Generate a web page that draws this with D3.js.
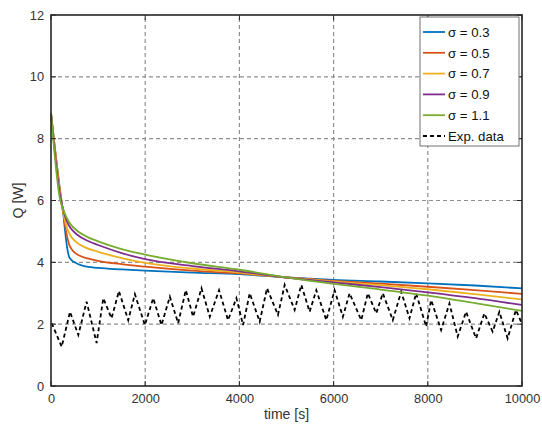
<!DOCTYPE html>
<html><head><meta charset="utf-8">
<script src="https://cdn.jsdelivr.net/npm/d3@7"></script>
<style>body{margin:0;background:#fff;} text{font-family:"Liberation Sans",Arial,sans-serif;}</style>
</head><body>
<script>
const xTicks = [0, 2000, 4000, 6000, 8000, 10000];
const yTicks = [0, 2, 4, 6, 8, 10, 12];
const seriesNames = ["σ = 0.3", "σ = 0.5", "σ = 0.7", "σ = 0.9", "σ = 1.1"];
const seriesColors = ["#0072BD", "#D95319", "#EDB120", "#7E2F8E", "#77AC30"];
const sigma03 = [[0,8.83],[220,6.0],[260,5.6],[300,5.0],[340,4.5],[380,4.2],[430,4.08],[500,4.0],[700,3.88],[1000,3.82],[1500,3.77],[2000,3.73],[3000,3.67],[4000,3.62],[5000,3.51],[6000,3.43],[7000,3.38],[8000,3.32],[9000,3.25],[10000,3.16]];
const sigma05 = [[0,8.83],[220,6.0],[270,5.5],[320,5.0],[380,4.6],[450,4.4],[600,4.22],[800,4.12],[1000,4.05],[1500,3.94],[2000,3.86],[3000,3.73],[4000,3.64],[5000,3.51],[6000,3.40],[7000,3.31],[8000,3.21],[9000,3.10],[10000,2.98]];
const sigma07 = [[0,8.83],[210,6.05],[260,5.6],[320,5.2],[400,4.9],[500,4.7],[700,4.5],[1000,4.34],[1500,4.14],[2000,3.98],[3000,3.80],[4000,3.67],[5000,3.51],[6000,3.38],[7000,3.26],[8000,3.13],[9000,2.97],[10000,2.80]];
const sigma09 = [[0,8.83],[200,6.1],[260,5.7],[330,5.35],[420,5.1],[550,4.9],[800,4.68],[1000,4.56],[1500,4.30],[2000,4.10],[3000,3.88],[4000,3.71],[5000,3.51],[6000,3.35],[7000,3.20],[8000,3.03],[9000,2.84],[10000,2.62]];
const sigma11 = [[0,8.83],[190,6.05],[250,5.75],[330,5.45],[420,5.22],[550,5.03],[800,4.80],[1000,4.68],[1500,4.43],[2000,4.25],[3000,3.97],[4000,3.76],[5000,3.51],[6000,3.30],[7000,3.12],[8000,2.92],[9000,2.68],[10000,2.43]];
const expData = [[15,2.03],[227,1.27],[403,2.40],[580,1.65],[756,2.73],[968,1.39],[1110,2.84],[1286,2.19],[1442,3.07],[1640,2.13],[1781,2.97],[1993,1.97],[2170,2.84],[2346,1.97],[2523,2.89],[2700,2.03],[2862,3.10],[3017,2.24],[3195,3.16],[3371,2.24],[3568,3.10],[3759,2.13],[3937,2.84],[4078,1.97],[4219,3.0],[4431,2.08],[4586,3.16],[4819,2.30],[4961,3.27],[5173,2.46],[5315,3.27],[5491,2.40],[5633,3.10],[5845,2.13],[6021,3.10],[6197,2.24],[6339,3.0],[6587,2.13],[6727,3.0],[6905,2.35],[7045,3.0],[7257,2.13],[7435,3.05],[7611,2.19],[7753,3.0],[7965,1.92],[8071,2.78],[8283,1.81],[8459,2.67],[8635,1.60],[8812,2.40],[9025,1.54],[9201,2.35],[9377,1.76],[9519,2.40],[9695,1.54],[9872,2.46],[9979,2.08]];
const allSeries = [sigma03, sigma05, sigma07, sigma09, sigma11];

const W = 542, H = 427;
const m = {l:51, r:20, t:15, b:41};
const svg = d3.select("body").append("svg").attr("width", W).attr("height", H);
const x = d3.scaleLinear().domain([0,10000]).range([m.l, W - m.r]);
const y = d3.scaleLinear().domain([0,12]).range([H - m.b, m.t]);
const axisCol = "#262626";

// grid
const g = svg.append("g");
xTicks.slice(1,-1).forEach(t => g.append("line").attr("x1", x(t)).attr("x2", x(t)).attr("y1", y(0)).attr("y2", y(12))
  .attr("stroke", "#8f8f8f").attr("stroke-width", 1.2).attr("stroke-dasharray", "4,3"));
yTicks.slice(1,-1).forEach(t => g.append("line").attr("x1", x(0)).attr("x2", x(10000)).attr("y1", y(t)).attr("y2", y(t))
  .attr("stroke", "#8f8f8f").attr("stroke-width", 1.2).attr("stroke-dasharray", "4,3"));

const line = d3.line().x(d => x(d[0])).y(d => y(d[1])).curve(d3.curveMonotoneX);
const lineL = d3.line().x(d => x(d[0])).y(d => y(d[1]));

// exp data
svg.append("path").attr("d", lineL(expData)).attr("fill","none").attr("stroke","#000")
  .attr("stroke-width",1.8).attr("stroke-dasharray","4,3");

allSeries.forEach((s,i) => svg.append("path").attr("d", line(s)).attr("fill","none")
  .attr("stroke", seriesColors[i]).attr("stroke-width", 1.8));

// axes
const xa = svg.append("g").attr("transform", `translate(0,${y(0)})`)
  .call(d3.axisBottom(x).tickValues(xTicks).tickSize(0).tickPadding(6).tickFormat(d3.format("d")));
const ya = svg.append("g").attr("transform", `translate(${x(0)},0)`)
  .call(d3.axisLeft(y).tickValues(yTicks).tickSize(0).tickPadding(7));
[xa, ya].forEach(a => { a.select(".domain").remove(); a.selectAll("text").attr("font-size", 12.8).attr("fill", "#333").attr("font-family","Liberation Sans, Arial, sans-serif"); });
xa.selectAll("text").attr("dy", "0.85em");
// inner ticks
xTicks.forEach(t => { svg.append("line").attr("x1",x(t)).attr("x2",x(t)).attr("y1",y(0)).attr("y2",y(0)-5).attr("stroke",axisCol);
  svg.append("line").attr("x1",x(t)).attr("x2",x(t)).attr("y1",y(12)).attr("y2",y(12)+5).attr("stroke",axisCol); });
yTicks.forEach(t => { svg.append("line").attr("x1",x(0)).attr("x2",x(0)+5).attr("y1",y(t)).attr("y2",y(t)).attr("stroke",axisCol);
  svg.append("line").attr("x1",x(10000)).attr("x2",x(10000)-5).attr("y1",y(t)).attr("y2",y(t)).attr("stroke",axisCol); });
svg.append("rect").attr("x", x(0)).attr("y", y(12)).attr("width", x(10000)-x(0)).attr("height", y(0)-y(12))
  .attr("fill","none").attr("stroke", axisCol).attr("stroke-width", 1.6);

svg.append("text").attr("x", (x(0)+x(10000))/2).attr("y", 419).attr("text-anchor","middle")
  .attr("font-size", 14).attr("fill", "#333").text("time [s]");
svg.append("text").attr("transform", `translate(23,${(y(0)+y(12))/2}) rotate(-90)`).attr("text-anchor","middle")
  .attr("font-size", 14).attr("fill", "#333").text("Q [W]");

// legend
const lg = svg.append("g");
lg.append("rect").attr("x", 420).attr("y", 17).attr("width", 99).attr("height", 129)
  .attr("fill","#fff").attr("stroke","#4d4d4d").attr("stroke-width",0.8);
const names = seriesNames.concat(["Exp. data"]);
names.forEach((n,i) => {
  const yy = 32 + i*20.8;
  lg.append("line").attr("x1",423).attr("x2",445).attr("y1",yy).attr("y2",yy)
    .attr("stroke", i < 5 ? seriesColors[i] : "#000").attr("stroke-width", 1.8)
    .attr("stroke-dasharray", i < 5 ? null : "4,3");
  lg.append("text").attr("x", 448).attr("y", yy + 4.8).attr("font-size", 13.2).attr("fill", "#111").text(n);
});
</script>
</body></html>
